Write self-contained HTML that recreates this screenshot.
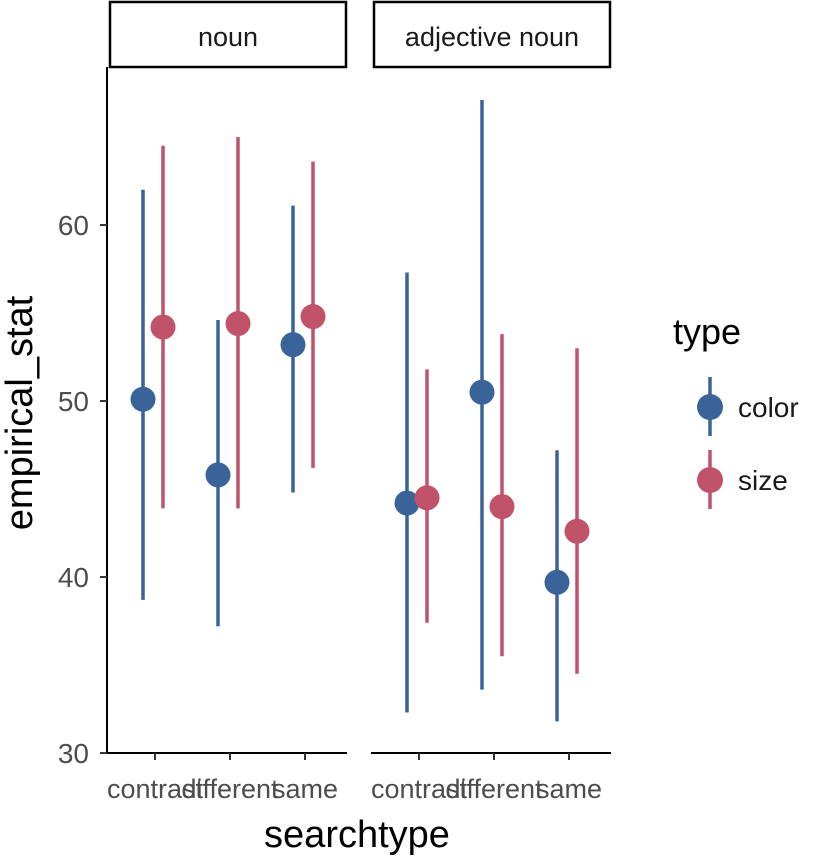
<!DOCTYPE html>
<html><head><meta charset="utf-8"><style>
body{margin:0;background:#fff}
svg{font-family:"Liberation Sans",Arial,sans-serif}
</style></head><body>
<svg id="c" width="839" height="858" viewBox="0 0 839 858" xmlns="http://www.w3.org/2000/svg">
<g id="frame"></g>
</svg>
<script>
const panels = ["noun","adjective noun"];
const categories = ["contrast","different","same"];
const types = ["color","size"];
// [panel][category]
const colorMean = [[50.1,45.8,53.2],[44.2,50.5,39.7]];
const colorLo   = [[38.7,37.2,44.8],[32.3,33.6,31.8]];
const colorHi   = [[62.0,54.6,61.1],[57.3,67.1,47.2]];
const sizeMean  = [[54.2,54.4,54.8],[44.5,44.0,42.6]];
const sizeLo    = [[43.9,43.9,46.2],[37.4,35.5,34.5]];
const sizeHi    = [[64.5,65.0,63.6],[51.8,53.8,53.0]];
const yTicks = [30,40,50,60];

const NS="http://www.w3.org/2000/svg";
const svg=document.getElementById('c');
const cols={color:"#3A6399",size:"#C0526A"};
const panelX=[107,371], panelW=240;
function y(v){return 753-(v-30)*17.6;}
function x(p,ci,ti){return panelX[p]+48+ci*75+(ti===0?-12:8);}
function el(t,a,txt){const e=document.createElementNS(NS,t);for(const k in a)e.setAttribute(k,a[k]);if(txt!==undefined)e.textContent=txt;svg.appendChild(e);return e;}

panels.forEach((name,p)=>{
  const px=panelX[p];
  const s=el('rect',{x:px+3,y:2,width:236,height:65,fill:'#fff',stroke:'#000','stroke-width':2.5});
  
  
  const st=el('text',{x:px+121,y:46,'font-size':27,'text-anchor':'middle',fill:'#1a1a1a'},name);
  
  
  const ax=el('line',{x1:px,x2:px+panelW,y1:753,y2:753,stroke:'#000','stroke-width':2});
  
  
  categories.forEach((c,ci)=>{
    const cx=px+48+ci*75;
    el('line',{x1:cx,x2:cx,y1:753,y2:760,stroke:'#333','stroke-width':2});
    const t=el('text',{x:cx,y:798,'font-size':27,'text-anchor':'middle',fill:'#4d4d4d'},c);
    
    
  });
});
const yl=el('line',{x1:107,x2:107,y1:67,y2:753,stroke:'#000','stroke-width':2});


yTicks.forEach(v=>{
  el('line',{x1:100,x2:107,y1:y(v),y2:y(v),stroke:'#333','stroke-width':2});
  const t=el('text',{x:89,y:y(v)+10,'font-size':28,'text-anchor':'end',fill:'#4d4d4d'},v);
  
  
});
const series={color:[colorMean,colorLo,colorHi],size:[sizeMean,sizeLo,sizeHi]};
panels.forEach((_,p)=>categories.forEach((c,ci)=>types.forEach((t,ti)=>{
  const [m,lo,hi]=series[t];const cx=x(p,ci,ti);
  const l=el('line',{x1:cx,x2:cx,y1:y(lo[p][ci]),y2:y(hi[p][ci]),stroke:cols[t],'stroke-width':3.5});
  
  
  const pt=el('circle',{cx:cx,cy:y(m[p][ci]),r:12.5,fill:cols[t]});
  
  
})));
const xt=el('text',{x:357,y:847,'font-size':38,'text-anchor':'middle',fill:'#000'},'searchtype');


const ytt=el('text',{x:0,y:0,'font-size':38,'text-anchor':'middle',fill:'#000',transform:'translate(32,413) rotate(-90)'},'empirical_stat');


const lt=el('text',{x:673,y:344,'font-size':36,fill:'#000'},'type');


types.forEach((t,i)=>{
  const cy=407+i*73;
  el('line',{x1:710,x2:710,y1:cy-30,y2:cy+29,stroke:cols[t],'stroke-width':3.5});
  const k=el('circle',{cx:710,cy:cy,r:13,fill:cols[t]});
  
  
  const lb=el('text',{x:738,y:cy+10,'font-size':28,fill:'#1a1a1a'},t);
  
  
});
</script>
</body></html>
